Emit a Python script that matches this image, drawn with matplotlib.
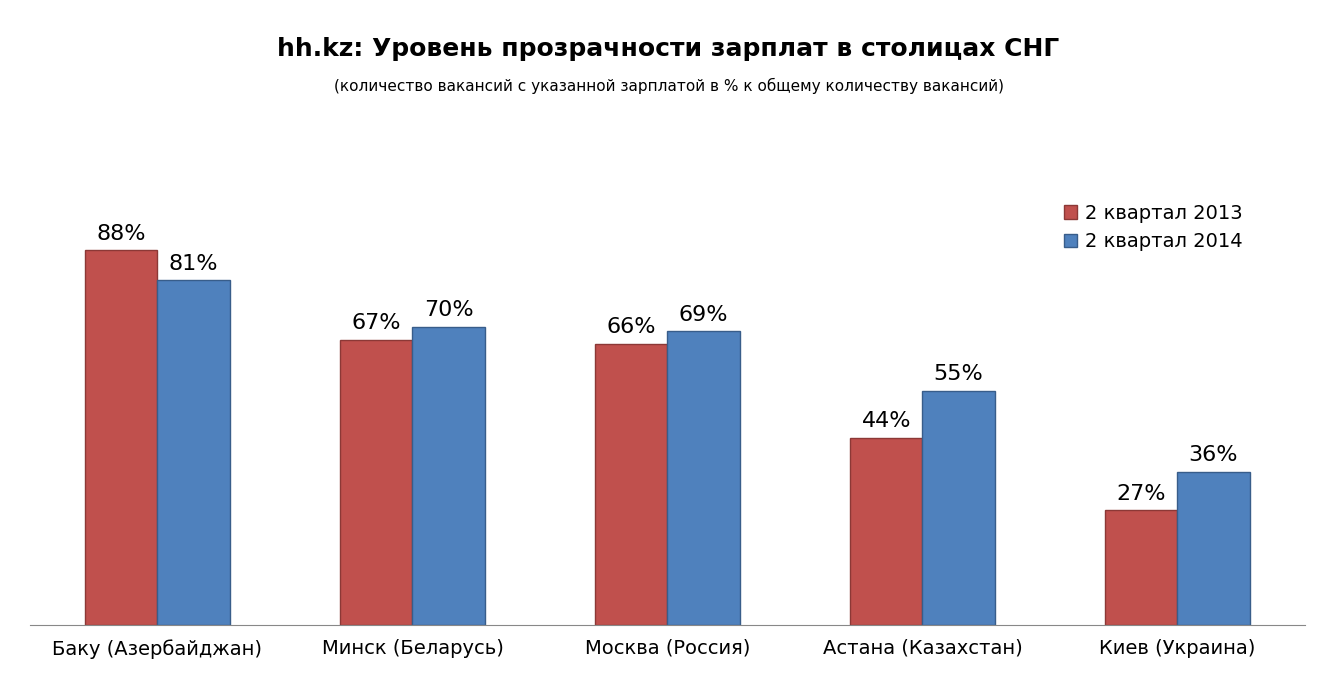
import matplotlib
matplotlib.use("Agg")
import matplotlib.pyplot as plt
import numpy as np

categories = ["Баку (Азербайджан)", "Минск (Беларусь)", "Москва (Россия)", "Астана (Казахстан)", "Киев (Украина)"]
series_names = ["2 квартал 2013", "2 квартал 2014"]
values_2013 = [88, 67, 66, 44, 27]
values_2014 = [81, 70, 69, 55, 36]

fig = plt.figure(figsize=(13.37, 6.96), dpi=100)
ax = fig.add_axes([0.0224, 0.102, 0.9536, 0.612])
x = np.arange(len(categories))
w = 0.283
b1 = ax.bar(x - w/2, values_2013, w, color="#C0504D", edgecolor="#8C3836", linewidth=1, label=series_names[0])
b2 = ax.bar(x + w/2, values_2014, w, color="#4F81BD", edgecolor="#385D8A", linewidth=1, label=series_names[1])
for bars, vals in ((b1, values_2013), (b2, values_2014)):
    for r, v in zip(bars, vals):
        ax.text(r.get_x() + r.get_width()/2, v + 1.5, f"{v}%", ha="center", va="bottom", fontsize=16)
ax.set_xlim(-0.5, len(categories) - 0.5)
ax.set_ylim(0, 100)
ax.set_yticks([])
ax.set_xticks(x)
ax.set_xticklabels(categories, fontsize=14)
ax.tick_params(axis="x", length=0, pad=10)
for s in ["top", "left", "right"]:
    ax.spines[s].set_visible(False)
ax.spines["bottom"].set_color("#888888")
ax.legend(loc="upper right", bbox_to_anchor=(0.965, 1.03), frameon=False, fontsize=14,
          handlelength=0.7, handleheight=0.7, handletextpad=0.4, labelspacing=0.5)
fig.text(0.5, 0.93, "hh.kz: Уровень прозрачности зарплат в столицах СНГ", ha="center", va="center",
         fontsize=18, fontweight="bold")
fig.text(0.5, 0.877, "(количество вакансий с указанной зарплатой в % к общему количеству вакансий)",
         ha="center", va="center", fontsize=11)
fig.savefig("out.png", dpi=100)
